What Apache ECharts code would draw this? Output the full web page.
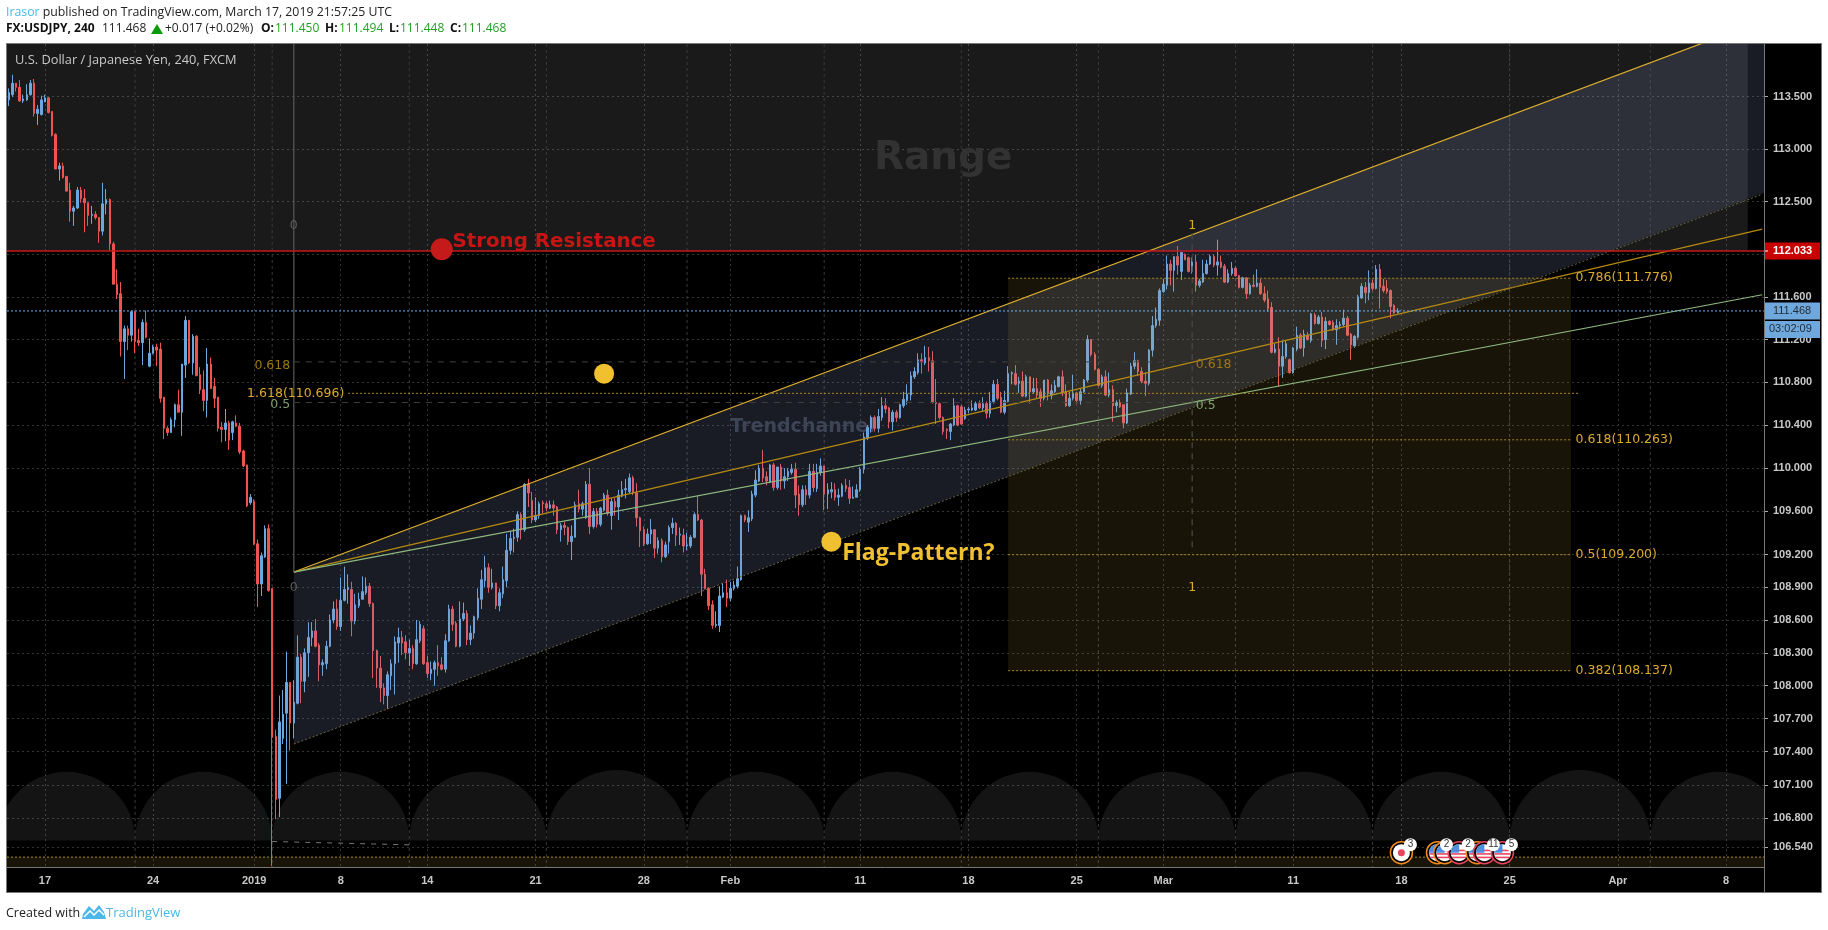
<!DOCTYPE html>
<html>
<head>
<meta charset="utf-8">
<title>USDJPY</title>
<script src="https://cdn.jsdelivr.net/npm/echarts@6/dist/echarts.min.js"></script>
<style>
html, body { margin: 0; padding: 0; background: #fff; }
#main { width: 1828px; height: 930px; }
</style>
</head>
<body>
<div id="main"></div>
<script>
// 4h candles, one slot per bar
const opens = [
113.47,113.52,113.63,113.59,113.46,113.47,113.52,113.63,113.34,113.33,
113.45,113.49,113.36,113.14,112.81,112.84,112.74,112.61,112.41,112.44,
112.61,112.53,112.49,112.37,112.38,112.35,112.22,112.48,112.52,112.10,
111.72,111.63,111.18,111.30,111.24,111.46,111.19,111.17,111.36,110.95,
111.07,111.13,111.11,110.66,110.37,110.33,110.45,110.59,110.52,110.96,
111.38,110.98,111.23,110.87,110.73,110.63,110.97,110.76,110.66,110.38,
110.36,110.42,110.33,110.42,110.39,110.16,110.03,109.68,109.69,109.30,
108.93,109.18,109.44,108.89,107.54,106.98,107.52,107.75,108.03,107.66,
107.84,108.26,108.04,108.30,108.44,108.50,108.37,108.19,108.20,108.36,
108.60,108.70,108.54,108.78,108.88,108.88,108.59,108.73,108.79,108.85,
108.91,108.75,108.32,108.16,107.98,107.91,108.09,108.20,108.39,108.44,
108.40,108.30,108.34,108.20,108.41,108.52,108.21,108.11,108.15,108.21,
108.19,108.15,108.41,108.70,108.57,108.36,108.61,108.66,108.42,108.48,
108.62,108.79,108.96,109.08,108.90,108.94,108.73,108.84,108.96,109.24,
109.35,109.36,109.57,109.43,109.85,109.70,109.52,109.56,109.68,109.67,
109.63,109.66,109.64,109.43,109.47,109.45,109.32,109.36,109.67,109.62,
109.54,109.85,109.46,109.60,109.48,109.61,109.75,109.56,109.69,109.64,
109.74,109.80,109.78,109.91,109.77,109.54,109.43,109.30,109.39,109.43,
109.26,109.33,109.18,109.32,109.45,109.49,109.38,109.38,109.28,109.28,
109.36,109.57,109.52,109.02,108.89,108.74,108.55,108.55,108.81,108.85,
108.80,108.89,108.91,108.97,109.56,109.50,109.53,109.75,109.88,110.00,
109.92,109.87,110.03,109.82,110.01,109.88,109.92,109.96,109.99,109.76,
109.66,109.80,109.75,109.97,109.81,109.96,110.02,109.76,109.78,109.80,
109.73,109.74,109.84,109.82,109.72,109.73,109.80,109.99,110.28,110.37,
110.47,110.37,110.47,110.58,110.56,110.43,110.52,110.47,110.58,110.63,
110.68,110.85,110.89,111.01,110.98,111.03,111.00,110.61,110.60,110.47,
110.36,110.34,110.40,110.58,110.57,110.46,110.54,110.54,110.54,110.60,
110.56,110.60,110.51,110.62,110.78,110.66,110.52,110.62,110.88,110.88,
110.79,110.81,110.67,110.85,110.71,110.74,110.71,110.65,110.82,110.68,
110.71,110.76,110.85,110.71,110.58,110.65,110.70,110.63,110.71,110.82,
111.20,111.06,110.92,110.77,110.85,110.68,110.73,110.58,110.61,110.59,
110.42,110.69,110.95,111.00,110.90,110.81,110.79,111.10,111.33,111.38,
111.65,111.71,111.91,111.85,111.98,111.84,112.00,111.97,111.84,111.93,
111.71,111.74,111.82,111.91,111.98,111.90,111.93,111.89,111.74,111.82,
111.87,111.80,111.69,111.78,111.63,111.71,111.70,111.73,111.63,111.58,
111.50,111.08,111.11,110.95,111.04,111.01,110.89,111.11,111.24,111.12,
111.24,111.19,111.43,111.35,111.41,111.20,111.37,111.36,111.29,111.33,
111.34,111.40,111.25,111.14,111.22,111.59,111.69,111.64,111.73,111.68,
111.86,111.70,111.68,111.66,111.52,111.450];
const highs = [
113.58,113.71,113.63,113.66,113.52,113.62,113.66,113.67,113.42,113.51,
113.52,113.49,113.36,113.15,112.87,112.87,112.74,112.68,112.46,112.64,
112.64,112.62,112.49,112.46,112.41,112.35,112.68,112.62,112.53,112.12,
111.86,111.74,111.33,111.33,111.47,111.47,111.30,111.39,111.47,111.21,
111.15,111.16,111.17,110.66,110.39,110.47,110.60,110.73,110.97,111.42,
111.38,111.25,111.24,110.94,110.91,111.12,111.03,110.84,110.66,110.43,
110.55,110.44,110.44,110.49,110.42,110.17,110.03,109.76,109.71,109.34,
109.22,109.47,109.48,108.89,107.60,107.91,107.96,108.31,108.03,108.05,
108.46,108.29,108.34,108.58,108.58,108.61,108.39,108.24,108.41,108.65,
108.77,108.79,108.99,109.09,109.02,108.95,108.84,108.85,109.00,108.99,
108.94,108.76,108.33,108.27,108.02,108.13,108.24,108.45,108.53,108.50,
108.46,108.42,108.37,108.60,108.59,108.55,108.27,108.22,108.23,108.37,
108.26,108.47,108.74,108.73,108.59,108.77,108.76,108.69,108.55,108.64,
108.89,109.06,109.19,109.12,109.07,108.94,108.89,109.09,109.39,109.42,
109.44,109.60,109.59,109.86,109.90,109.78,109.73,109.69,109.70,109.69,
109.70,109.70,109.65,109.49,109.50,109.46,109.47,109.69,109.80,109.69,
109.88,110.00,109.63,109.63,109.64,109.77,109.80,109.72,109.72,109.80,
109.88,109.90,109.95,109.93,109.86,109.55,109.46,109.44,109.53,109.43,
109.36,109.35,109.32,109.47,109.54,109.50,109.45,109.44,109.40,109.38,
109.59,109.74,109.53,109.07,108.90,108.78,108.68,108.91,108.94,108.97,
108.95,108.96,109.09,109.57,109.57,109.61,109.79,109.98,110.03,110.17,
109.97,110.04,110.05,110.01,110.04,110.00,110.00,110.04,110.05,109.84,
109.84,109.84,110.04,110.04,110.04,110.09,110.02,109.86,109.87,109.86,
109.81,109.86,109.90,109.89,109.83,109.85,110.01,110.33,110.40,110.49,
110.49,110.55,110.66,110.65,110.57,110.54,110.54,110.60,110.71,110.78,
110.90,110.94,111.07,111.07,111.14,111.13,111.09,110.83,110.61,110.48,
110.37,110.42,110.65,110.59,110.59,110.57,110.57,110.63,110.62,110.63,
110.66,110.62,110.71,110.82,110.83,110.71,110.72,110.95,110.90,110.96,
110.85,110.90,110.87,110.85,110.84,110.84,110.74,110.82,110.83,110.78,
110.82,110.86,110.91,110.78,110.71,110.87,110.71,110.74,110.83,111.24,
111.20,111.08,110.93,110.87,110.91,110.89,110.77,110.63,110.64,110.59,
110.74,110.98,111.08,111.01,110.94,110.89,111.11,111.42,111.50,111.68,
111.77,111.99,111.95,111.98,112.08,112.02,112.01,111.98,111.97,112.00,
111.77,111.95,111.95,112.00,112.00,112.14,111.99,111.91,111.86,111.93,
111.89,111.81,111.79,111.78,111.73,111.81,111.86,111.77,111.70,111.66,
111.55,111.16,111.22,111.19,111.19,111.02,111.13,111.32,111.26,111.29,
111.27,111.45,111.45,111.43,111.46,111.41,111.38,111.38,111.39,111.37,
111.48,111.42,111.26,111.24,111.62,111.73,111.74,111.85,111.76,111.90,
111.91,111.77,111.76,111.67,111.53,111.494];
const lows = [
113.41,113.50,113.55,113.45,113.44,113.46,113.51,113.31,113.23,113.32,
113.45,113.34,113.12,112.81,112.70,112.72,112.60,112.31,112.27,112.43,
112.49,112.21,112.27,112.29,112.33,112.11,112.18,112.38,112.04,111.72,
111.58,111.04,110.83,111.10,111.18,111.07,111.14,110.96,111.21,110.94,
111.06,110.95,110.61,110.27,110.30,110.33,110.38,110.52,110.30,110.84,
110.97,110.87,110.86,110.69,110.53,110.47,110.74,110.56,110.34,110.24,
110.25,110.17,110.26,110.38,110.13,110.01,109.64,109.66,109.29,108.72,
108.82,109.17,108.86,106.37,106.79,106.81,107.47,107.11,107.41,107.52,
107.83,107.84,107.94,108.08,108.36,108.35,108.04,108.09,108.15,108.35,
108.57,108.51,108.50,108.77,108.75,108.45,108.56,108.71,108.79,108.83,
108.72,108.07,107.98,107.85,107.83,107.79,107.96,107.92,108.21,108.28,
108.24,108.18,108.15,108.19,108.39,108.19,108.07,108.05,108.00,108.09,
108.14,108.12,108.40,108.50,108.35,108.35,108.59,108.37,108.37,108.43,
108.60,108.70,108.90,108.85,108.88,108.70,108.68,108.80,108.90,109.20,
109.22,109.32,109.34,109.41,109.64,109.49,109.50,109.53,109.58,109.60,
109.62,109.56,109.39,109.32,109.38,109.29,109.15,109.36,109.59,109.56,
109.53,109.39,109.44,109.45,109.46,109.60,109.56,109.43,109.56,109.52,
109.73,109.72,109.77,109.75,109.46,109.27,109.28,109.29,109.30,109.17,
109.21,109.13,109.17,109.21,109.39,109.28,109.29,109.22,109.24,109.26,
109.35,109.51,108.82,108.88,108.69,108.52,108.53,108.49,108.80,108.72,
108.77,108.87,108.89,108.96,109.50,109.41,109.51,109.73,109.87,109.87,
109.84,109.86,109.79,109.80,109.80,109.81,109.88,109.94,109.63,109.56,
109.64,109.66,109.72,109.78,109.78,109.93,109.61,109.62,109.72,109.70,
109.65,109.73,109.78,109.67,109.72,109.73,109.78,109.95,110.26,110.33,
110.34,110.33,110.44,110.51,110.37,110.35,110.43,110.46,110.56,110.59,
110.63,110.83,110.87,110.88,110.96,110.90,110.60,110.41,110.45,110.31,
110.27,110.26,110.39,110.39,110.40,110.45,110.51,110.53,110.53,110.55,
110.53,110.46,110.47,110.60,110.63,110.51,110.50,110.61,110.78,110.77,
110.70,110.66,110.66,110.60,110.69,110.65,110.57,110.63,110.63,110.64,
110.70,110.75,110.67,110.57,110.57,110.63,110.60,110.59,110.70,110.80,
111.04,110.91,110.76,110.75,110.67,110.66,110.43,110.52,110.56,110.37,
110.41,110.68,110.92,110.86,110.79,110.67,110.77,111.04,111.31,111.33,
111.64,111.67,111.71,111.65,111.81,111.76,111.95,111.83,111.82,111.65,
111.69,111.73,111.81,111.90,111.88,111.80,111.87,111.73,111.73,111.80,
111.79,111.68,111.68,111.58,111.62,111.69,111.69,111.62,111.55,111.46,
111.07,111.07,110.76,110.84,111.02,110.88,110.88,111.09,111.11,111.04,
111.19,111.17,111.34,111.34,111.13,111.11,111.33,111.28,111.15,111.30,
111.32,111.23,111.01,111.12,111.21,111.58,111.54,111.57,111.66,111.67,
111.49,111.64,111.63,111.40,111.44,111.448];
const closes = [
113.54,113.63,113.59,113.46,113.48,113.52,113.63,113.34,113.38,113.47,
113.49,113.35,113.13,112.81,112.84,112.73,112.60,112.41,112.44,112.61,
112.53,112.49,112.37,112.38,112.35,112.22,112.48,112.52,112.10,111.72,
111.62,111.18,111.30,111.24,111.46,111.18,111.17,111.36,111.22,111.07,
111.13,111.10,110.65,110.37,110.33,110.45,110.59,110.52,110.97,111.38,
110.98,111.23,110.86,110.73,110.63,110.97,110.74,110.65,110.37,110.36,
110.42,110.26,110.43,110.39,110.15,110.02,109.65,109.73,109.30,108.93,
109.19,109.44,108.87,107.53,106.97,107.67,107.74,108.03,107.66,107.85,
108.26,108.04,108.30,108.44,108.50,108.36,108.19,108.21,108.36,108.60,
108.70,108.54,108.78,108.88,108.90,108.59,108.74,108.79,108.86,108.91,
108.75,108.32,108.16,107.98,107.91,108.10,108.20,108.40,108.44,108.39,
108.30,108.34,108.20,108.42,108.56,108.20,108.11,108.15,108.21,108.18,
108.15,108.41,108.70,108.56,108.36,108.61,108.66,108.42,108.48,108.63,
108.80,108.97,109.08,108.90,108.94,108.73,108.85,108.97,109.24,109.35,
109.36,109.57,109.43,109.85,109.77,109.52,109.56,109.67,109.67,109.63,
109.66,109.63,109.43,109.47,109.45,109.32,109.37,109.66,109.62,109.67,
109.85,109.46,109.60,109.48,109.63,109.75,109.58,109.69,109.64,109.75,
109.80,109.81,109.91,109.77,109.54,109.42,109.30,109.39,109.43,109.26,
109.33,109.18,109.29,109.45,109.49,109.38,109.39,109.28,109.29,109.36,
109.57,109.52,109.02,108.89,108.73,108.55,108.56,108.82,108.85,108.80,
108.89,108.92,108.98,109.56,109.52,109.54,109.76,109.89,110.00,109.91,
109.88,110.03,109.82,110.01,109.88,109.92,109.97,109.99,109.75,109.66,
109.80,109.75,109.97,109.82,109.96,110.02,109.76,109.80,109.80,109.73,
109.75,109.84,109.81,109.72,109.73,109.80,109.99,110.29,110.38,110.47,
110.37,110.48,110.58,110.55,110.43,110.52,110.47,110.59,110.64,110.69,
110.86,110.90,111.01,110.99,111.03,111.00,110.61,110.60,110.47,110.34,
110.35,110.41,110.58,110.40,110.41,110.54,110.55,110.56,110.60,110.56,
110.60,110.51,110.62,110.78,110.65,110.52,110.63,110.88,110.89,110.78,
110.81,110.67,110.85,110.71,110.74,110.68,110.65,110.82,110.69,110.72,
110.77,110.85,110.70,110.58,110.65,110.70,110.63,110.71,110.82,111.20,
111.06,110.92,110.77,110.85,110.68,110.73,110.58,110.61,110.57,110.42,
110.70,110.95,111.00,110.90,110.81,110.79,111.10,111.33,111.39,111.66,
111.72,111.91,111.85,111.98,111.90,112.02,111.95,111.84,111.93,111.71,
111.75,111.82,111.91,111.98,111.90,111.93,111.88,111.74,111.82,111.87,
111.80,111.69,111.78,111.63,111.71,111.70,111.73,111.63,111.57,111.49,
111.08,111.11,110.95,111.04,111.16,110.89,111.12,111.24,111.12,111.25,
111.20,111.44,111.35,111.41,111.19,111.37,111.34,111.29,111.33,111.34,
111.40,111.24,111.15,111.23,111.60,111.70,111.64,111.73,111.68,111.86,
111.69,111.66,111.65,111.51,111.45,111.468];

// axis ticks
const slotCount = 487;
const xTickSlots = [10, 40, 68, 92, 116, 146, 176, 200, 236, 266, 296, 320, 356, 386, 416, 446, 476];
const xTickLabels = ['17', '24', '2019', '8', '14', '21', '28', 'Feb', '11', '18', '25', 'Mar', '11', '18', '25', 'Apr', '8'];
const yTicks = [113.5, 113, 112.5, 112, 111.6, 111.2, 110.8, 110.4, 110, 109.6, 109.2, 108.9, 108.6, 108.3, 108, 107.7, 107.4, 107.1, 106.8, 106.54];
const yMin = 106.361;
const yMax = 114.006;

// levels and drawings, in [slot, price]
const lastPrice = 111.468;
const resistance = 112.033;
const fanTop = [[79, 109.04], [486, 114.23]];
const fanGold = [[79, 109.04], [486, 112.24]];
const fanGreen = [[79, 109.04], [486, 111.62]];
const channelLow = [[79, 107.47], [486, 112.57]];
const channelArea = [[79, 109.04], [487, 114.24], [487, 112.59], [79, 107.47]];
const zeroLine = [[79, 114.006], [79, 109.04]];
const oneLine = [[328, 112.2], [328, 109.22]];
const stubLine = [[73, 106.59], [111, 106.56]];
const fanLevels = [110.99, 110.61];
const fanLevelSlots = [79, 328];
const fibLevels = [111.776, 110.263, 109.2, 108.137];
const fibSlots = [277, 433];
const fibExtra = [[94, 110.696], [435, 110.696]];
const stripTop = 106.45;
const cycleSlots = [-3, 35, 73, 111, 149, 188, 226, 264, 302, 340, 378, 416, 455, 493];
const cycleBase = 106.6;
const rangeEndSlot = 482;

// bottom event badges: slot, count, kind
const eventSlots = [386, 396, 398, 402, 407, 409, 414];
const eventCounts = ['3', '2', '', '2', '', '11', '5'];
const eventFlags = ['jp', 'us', 'us', 'us', 'us', 'us', 'us'];
const eventRings = ['#f08a1c', '#f08a1c', '#f08a1c', '#e8455f', '#f08a1c', '#e8455f', '#e8455f'];

const FONT = '"Open Sans", sans-serif';
const DJ = '"DejaVu Sans", sans-serif';
const GOLD = '#dcab2c';

const categories = [];
for (let i = 0; i < slotCount; i++) {
    const k = xTickSlots.indexOf(i);
    categories.push(k >= 0 ? xTickLabels[k] : '');
}
const hasLabel = (i, v) => v !== '';
const candles = opens.map((o, i) => [o, closes[i], lows[i], highs[i]]);

function lineSeries(points, color, width, type, z) {
    return {
        type: 'line', data: points, showSymbol: false, silent: true, animation: false, z: z || 4,
        lineStyle: { color: color, width: width, type: type || 'solid' }
    };
}

// one custom series drawing a list of shapes from data coordinates
function drawSeries(z, clip, build) {
    return {
        type: 'custom', coordinateSystem: 'cartesian2d', clip: clip, z: z, silent: true, animation: false,
        data: [[0, 110]], encode: { x: 0, y: 1 },
        renderItem: function (params, api) {
            return { type: 'group', children: build(params, api) };
        }
    };
}

function rectShape(a, b, fill) {
    return { type: 'rect', shape: { x: a[0], y: a[1], width: b[0] - a[0], height: b[1] - a[1] }, style: { fill: fill } };
}

function textShape(p, text, opt) {
    return {
        type: 'text', x: p[0] + (opt.dx || 0), y: p[1] + (opt.dy || 0),
        style: {
            text: text, fill: opt.color, font: opt.font,
            textAlign: opt.align || 'left', textVerticalAlign: 'middle', opacity: opt.opacity == null ? 1 : opt.opacity
        }
    };
}

function flagShape(c, kind, ring) {
    const items = [
        { type: 'circle', shape: { cx: c[0], cy: c[1], r: 11 }, style: { fill: '#000', stroke: ring, lineWidth: 1.5 } },
        { type: 'circle', shape: { cx: c[0], cy: c[1], r: 8.5 }, style: { fill: '#fff' } }
    ];
    if (kind === 'jp') {
        items.push({ type: 'circle', shape: { cx: c[0], cy: c[1], r: 3.5 }, style: { fill: '#e8455f' } });
    } else {
        items.push({ type: 'rect', shape: { x: c[0] - 6.5, y: c[1] - 3, width: 13, height: 1.6 }, style: { fill: '#e8455f' } });
        items.push({ type: 'rect', shape: { x: c[0] - 8, y: c[1] + 0.5, width: 16, height: 1.6 }, style: { fill: '#e8455f' } });
        items.push({ type: 'rect', shape: { x: c[0] - 7, y: c[1] + 4, width: 14, height: 1.6 }, style: { fill: '#e8455f' } });
        items.push({ type: 'sector', shape: { cx: c[0], cy: c[1], r0: 0, r: 8.5, startAngle: Math.PI, endAngle: Math.PI * 1.5 }, style: { fill: '#4f8fe0' } });
    }
    return items;
}

const option = {
    backgroundColor: '#fff',
    animation: false,
    graphic: { elements: [
        { type: 'rect', z: -5, shape: { x: 6.5, y: 43.5, width: 1815, height: 849 }, style: { fill: '#000', stroke: '#787878', lineWidth: 1 } },
        { type: 'line', z: 10, shape: { x1: 1764.5, y1: 44, x2: 1764.5, y2: 893 }, style: { stroke: '#787878', lineWidth: 1 } },
        { type: 'text', x: 6, y: 12, style: { text: '{a|Irasor} published on TradingView.com, March 17, 2019 21:57:25 UTC', font: '12.3px ' + FONT, fill: '#222', textVerticalAlign: 'middle', rich: { a: { fill: '#4db8e8', font: '12.3px ' + FONT } } } },
        { type: 'text', x: 6, y: 29, style: { text: 'FX:USDJPY, 240', font: 'bold 12px ' + FONT, fill: '#111', textVerticalAlign: 'middle' } },
        { type: 'text', x: 102, y: 29, style: { text: '111.468', font: '12px ' + FONT, fill: '#222', textVerticalAlign: 'middle' } },
        { type: 'polygon', shape: { points: [[151, 34], [157, 24], [163, 34]] }, style: { fill: '#0a9a0a' } },
        { type: 'text', x: 165, y: 29, style: { text: '+0.017 (+0.02%)', font: '12px ' + FONT, fill: '#222', textVerticalAlign: 'middle' } },
        { type: 'text', x: 261, y: 29, style: { text: 'O:', font: 'bold 12px ' + FONT, fill: '#111', textVerticalAlign: 'middle' } },
        { type: 'text', x: 275, y: 29, style: { text: '111.450', font: '12px ' + FONT, fill: '#22a022', textVerticalAlign: 'middle' } },
        { type: 'text', x: 325, y: 29, style: { text: 'H:', font: 'bold 12px ' + FONT, fill: '#111', textVerticalAlign: 'middle' } },
        { type: 'text', x: 339, y: 29, style: { text: '111.494', font: '12px ' + FONT, fill: '#22a022', textVerticalAlign: 'middle' } },
        { type: 'text', x: 389, y: 29, style: { text: 'L:', font: 'bold 12px ' + FONT, fill: '#111', textVerticalAlign: 'middle' } },
        { type: 'text', x: 400, y: 29, style: { text: '111.448', font: '12px ' + FONT, fill: '#22a022', textVerticalAlign: 'middle' } },
        { type: 'text', x: 450, y: 29, style: { text: 'C:', font: 'bold 12px ' + FONT, fill: '#111', textVerticalAlign: 'middle' } },
        { type: 'text', x: 462, y: 29, style: { text: '111.468', font: '12px ' + FONT, fill: '#22a022', textVerticalAlign: 'middle' } },
        { type: 'text', z: 10, x: 15, y: 60.5, style: { text: 'U.S. Dollar / Japanese Yen, 240, FXCM', font: '12.8px ' + FONT, fill: '#c8c8c8', textVerticalAlign: 'middle' } },
        { type: 'text', x: 6, y: 913, style: { text: 'Created with', font: '12.5px ' + FONT, fill: '#222', textVerticalAlign: 'middle' } },
        { type: 'polygon', shape: { points: [[82, 919], [83, 914], [89, 906], [94, 911], [99, 905], [104, 912], [106, 919]] }, style: { fill: '#4db8e8' } },
        { type: 'polyline', shape: { points: [[84, 917], [90, 911], [94, 915], [99, 910], [104, 915]] }, style: { stroke: '#fff', fill: 'none', lineWidth: 1.5 } },
        { type: 'text', x: 106, y: 913, style: { text: 'TradingView', font: '13px ' + FONT, fill: '#4db8e8', textVerticalAlign: 'middle' } }
    ] },
    grid: { left: 7, right: 64, top: 44, bottom: 63, containLabel: false },
    xAxis: {
        type: 'category', data: categories, boundaryGap: true,
        axisLine: { lineStyle: { color: '#787878', width: 1 } },
        axisTick: { interval: hasLabel, alignWithLabel: true, length: 4, lineStyle: { color: '#aaa' } },
        axisLabel: { interval: hasLabel, color: '#c8c8c8', fontFamily: 'Liberation Sans', fontSize: 11, fontWeight: 'bold', margin: 8, hideOverlap: false },
        splitLine: { show: true, interval: hasLabel, alignWithLabel: true, lineStyle: { color: '#333', type: [2, 3], width: 1 } }
    },
    yAxis: {
        type: 'log', logBase: 10, min: yMin, max: yMax, position: 'right',
        axisLine: { show: true, lineStyle: { color: '#787878' } },
        axisTick: { show: true, customValues: yTicks, length: 4, lineStyle: { color: '#aaa' } },
        axisLabel: { customValues: yTicks, color: '#c8c8c8', fontFamily: 'Liberation Sans', fontSize: 11, fontWeight: 'bold', margin: 9, formatter: v => v.toFixed(3) },
        splitLine: { show: true, lineStyle: { color: '#333', type: [2, 3], width: 1 } },
        minorTick: { show: false }, minorSplitLine: { show: false }
    },
    series: [
        // range box, time cycles and the strip at the bottom sit under the candles
        drawSeries(1, true, function (params, api) {
            const box = params.coordSys;
            const items = [];
            const rTop = api.coord([0, resistance])[1];
            items.push(rectShape([box.x, box.y], [api.coord([rangeEndSlot, yMax])[0], rTop], 'rgba(255,255,255,0.1)'));
            cycleSlots.forEach(function (s, i) {
                const a = api.coord([s, cycleBase]);
                if (i + 1 < cycleSlots.length) {
                    const b = api.coord([cycleSlots[i + 1], cycleBase]);
                    const r = (b[0] - a[0]) / 2;
                    items.push({ type: 'sector', shape: { cx: a[0] + r, cy: a[1], r0: 0, r: r, startAngle: Math.PI, endAngle: Math.PI * 2 }, style: { fill: 'rgba(255,255,255,0.08)' } });
                }
                items.push({ type: 'line', shape: { x1: a[0], y1: box.y, x2: a[0], y2: box.y + box.height }, style: { stroke: '#3a3a3a', lineWidth: 1, lineDash: [3, 3] } });
            });
            const st = api.coord([0, stripTop])[1];
            items.push(rectShape([box.x, st], [box.x + box.width, box.y + box.height], 'rgba(240,200,80,0.1)'));
            items.push({ type: 'line', shape: { x1: box.x, y1: st, x2: box.x + box.width, y2: st }, style: { stroke: '#a8862a', lineWidth: 1, lineDash: [2, 2] } });
            return items;
        }),
        drawSeries(1, false, function (params, api) {
            return [
                textShape(api.coord([200, 110.38]), 'Trendchannel', { color: '#2c323e', font: 'bold 19px ' + DJ }),
                textShape(api.coord([259, 112.91]), 'Range', { color: '#323232', font: 'bold 39px ' + DJ, align: 'center' })
            ];
        }),
        {
            type: 'candlestick', data: candles, z: 2, barWidth: 2, silent: true, animation: false, clip: true,
            itemStyle: { color: '#6ba8e0', color0: '#f05252', borderColor: '#6ba8e0', borderColor0: '#f05252', borderWidth: 1 }
        },
        // channel and fib box are laid over the candles
        drawSeries(3, true, function (params, api) {
            const pts = channelArea.map(p => api.coord(p));
            const a = api.coord([fibSlots[0], fibLevels[0]]);
            const b = api.coord([fibSlots[1], fibLevels[3]]);
            return [
                { type: 'polygon', shape: { points: pts }, style: { fill: 'rgba(125,140,185,0.2)' } },
                rectShape(a, b, 'rgba(240,200,80,0.1)')
            ];
        }),
        lineSeries(fanTop, '#e0b030', 1.2),
        lineSeries(fanGold, '#b58a10', 1.2),
        lineSeries(fanGreen, '#8fb87f', 1.2),
        lineSeries(channelLow, '#6b6546', 1, [2, 2]),
        lineSeries(zeroLine, '#5a5a5a', 1.2),
        lineSeries(oneLine, '#4a4a4a', 1.2, [6, 5]),
        lineSeries(stubLine, '#777', 1, [5, 6]),
        lineSeries([[fanLevelSlots[0], fanLevels[0]], [fanLevelSlots[1], fanLevels[0]]], '#404040', 1, [6, 6]),
        lineSeries([[fanLevelSlots[0], fanLevels[1]], [fanLevelSlots[1], fanLevels[1]]], '#404040', 1, [6, 6]),
        lineSeries(fibExtra, '#a8862a', 1, [2, 2]),
        lineSeries([[fibSlots[0], fibLevels[0]], [fibSlots[1], fibLevels[0]]], '#a8862a', 1, [2, 2]),
        lineSeries([[fibSlots[0], fibLevels[1]], [fibSlots[1], fibLevels[1]]], '#a8862a', 1, [2, 2]),
        lineSeries([[fibSlots[0], fibLevels[2]], [fibSlots[1], fibLevels[2]]], '#a8862a', 1, [2, 2]),
        lineSeries([[fibSlots[0], fibLevels[3]], [fibSlots[1], fibLevels[3]]], '#a8862a', 1, [2, 2]),
        // full width price lines, marks, labels and the axis price tags
        drawSeries(5, false, function (params, api) {
            const box = params.coordSys;
            const right = box.x + box.width;
            const yR = api.coord([0, resistance])[1];
            const yL = api.coord([0, lastPrice])[1];
            const items = [
                { type: 'line', shape: { x1: box.x, y1: yR, x2: right, y2: yR }, style: { stroke: '#c81818', lineWidth: 1.5 } },
                { type: 'line', shape: { x1: box.x, y1: yL, x2: right, y2: yL }, style: { stroke: '#6fb0ee', lineWidth: 1, lineDash: [2, 2] } },
                { type: 'circle', shape: { cx: api.coord([120, 0])[0], cy: api.coord([0, 112.05])[1], r: 11 }, style: { fill: '#c41a1a' } },
                { type: 'circle', shape: { cx: api.coord([165, 0])[0], cy: api.coord([0, 110.88])[1], r: 10 }, style: { fill: '#f0c030' } },
                { type: 'circle', shape: { cx: api.coord([228, 0])[0], cy: api.coord([0, 109.32])[1], r: 10 }, style: { fill: '#f0c030' } },
                textShape(api.coord([123, 112.115]), 'Strong Resistance', { color: '#c81414', font: 'bold 19.8px ' + DJ }),
                textShape(api.coord([231, 109.21]), 'Flag-Pattern?', { color: '#f0c030', font: 'bold 23px ' + FONT }),
                textShape(api.coord([328, 112.27]), '1', { color: GOLD, font: '12.5px ' + DJ, align: 'center' }),
                textShape(api.coord([328, 108.90]), '1', { color: GOLD, font: '12.5px ' + DJ, align: 'center' }),
                textShape(api.coord([79, 112.27]), '0', { color: '#5c5c5c', font: '12.5px ' + DJ, align: 'center' }),
                textShape(api.coord([79, 108.90]), '0', { color: '#5c5c5c', font: '12.5px ' + DJ, align: 'center' }),
                textShape(api.coord([78, 110.95]), '0.618', { color: '#9a7a10', font: '12.5px ' + DJ, align: 'right' }),
                textShape(api.coord([78, 110.59]), '0.5', { color: '#7d9f6d', font: '12.5px ' + DJ, align: 'right' }),
                textShape(api.coord([329, 110.96]), '0.618', { color: '#9a7a10', font: '12.5px ' + DJ }),
                textShape(api.coord([329, 110.58]), '0.5', { color: '#7d9f6d', font: '12.5px ' + DJ }),
                textShape(api.coord([93, 110.696]), '1.618(110.696)', { color: GOLD, font: '12.5px ' + DJ, align: 'right' }),
                textShape(api.coord([434, 111.776]), '0.786(111.776)', { color: GOLD, font: '12.5px ' + DJ, dx: 1 }),
                textShape(api.coord([434, 110.263]), '0.618(110.263)', { color: GOLD, font: '12.5px ' + DJ, dx: 1 }),
                textShape(api.coord([434, 109.2]), '0.5(109.200)', { color: GOLD, font: '12.5px ' + DJ, dx: 1 }),
                textShape(api.coord([434, 108.137]), '0.382(108.137)', { color: GOLD, font: '12.5px ' + DJ, dx: 1 })
            ];
            // price tags on the axis
            items.push(rectShape([right, yR - 8.5], [right + 56, yR + 8.5], '#c80000'));
            items.push({ type: 'line', shape: { x1: right, y1: yR, x2: right + 4, y2: yR }, style: { stroke: '#fff', lineWidth: 1 } });
            items.push(textShape([right + 9, yR], resistance.toFixed(3), { color: '#fff', font: 'bold 11px "Liberation Sans"' }));
            items.push(rectShape([right, yL - 8.5], [right + 56, yL + 8.5], '#6fa8dc'));
            items.push(textShape([right + 9, yL], lastPrice.toFixed(3), { color: '#1f2a36', font: '11px "Liberation Sans"' }));
            items.push(rectShape([right, yL + 10], [right + 56, yL + 27], '#6fa8dc'));
            items.push(textShape([right + 5, yL + 18.5], '03:02:09', { color: '#1f2a36', font: '11px "Liberation Sans"' }));
            // event badges along the bottom, counts drawn last so they stay on top
            eventSlots.forEach(function (s, i) {
                flagShape(api.coord([s, 106.49]), eventFlags[i], eventRings[i]).forEach(e => items.push(e));
            });
            eventSlots.forEach(function (s, i) {
                if (eventCounts[i]) {
                    const c = api.coord([s, 106.49]);
                    items.push({ type: 'circle', shape: { cx: c[0] + 9, cy: c[1] - 8, r: 6.5 }, style: { fill: '#fff' } });
                    items.push(textShape([c[0] + 9, c[1] - 8], eventCounts[i], { color: '#333', font: '10px "Liberation Sans"', align: 'center' }));
                }
            });
            return items;
        })
    ]
};

const myChart = echarts.init(document.getElementById('main'), null, { renderer: 'canvas' });
myChart.setOption(option);
</script>
</body>
</html>
